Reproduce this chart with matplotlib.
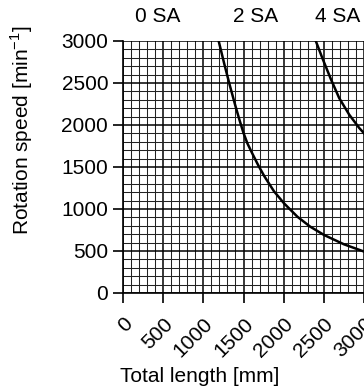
import numpy as np
import matplotlib.pyplot as plt
from matplotlib.ticker import MultipleLocator

plt.rcParams['font.family'] = ['Liberation Sans', 'DejaVu Sans']
plt.rcParams['mathtext.fontset'] = 'custom'
plt.rcParams['mathtext.rm'] = 'Liberation Sans'

# curve 2 SA (length mm, speed 1/min)
len_2sa = [1191, 1260, 1330, 1400, 1450, 1500, 1550, 1610, 1680, 1758, 1880,
           2004, 2171, 2330, 2504, 2750, 3004]
rpm_2sa = [3000, 2730, 2470, 2225, 2060, 1905, 1778, 1660, 1527, 1392, 1210,
           1068, 908, 790, 690, 580, 492]

# curve 4 SA
len_4sa = [2400, 2480, 2588, 2691, 2816, 2941, 3016]
rpm_4sa = [3000, 2800, 2545, 2321, 2123, 1964, 1885]

sa_labels = ['0 SA', '2 SA', '4 SA']
sa_label_x = [437, 1650, 2675]

xticks = [0, 500, 1000, 1500, 2000, 2500, 3000]
yticks = [0, 500, 1000, 1500, 2000, 2500, 3000]

fig = plt.figure(figsize=(3.64, 3.89), dpi=100)
ax = fig.add_axes([123 / 364, 1 - 293 / 389, 241 / 364, 252 / 389])

ax.plot(len_2sa, rpm_2sa, color='black', lw=1.8, zorder=3)
ax.plot(len_4sa, rpm_4sa, color='black', lw=1.8, zorder=3)

ax.set_xlim(0, 3000)
ax.set_ylim(0, 3000)
ax.set_xticks(xticks)
ax.set_yticks(yticks)
ax.xaxis.set_minor_locator(MultipleLocator(100))
ax.yaxis.set_minor_locator(MultipleLocator(100))
ax.grid(which='major', color='black', lw=1.1)
ax.grid(which='minor', color='#222222', lw=0.75)
ax.set_axisbelow(True)
for s in ['top', 'right']:
    ax.spines[s].set_visible(False)
for s in ['left', 'bottom']:
    ax.spines[s].set_linewidth(1.2)

ax.tick_params(which='major', direction='out', length=7.2, width=1.2, labelsize=15)
ax.tick_params(axis='x', pad=8)
ax.tick_params(which='minor', length=0)
ax.set_xticklabels([str(t) for t in xticks], rotation=45, ha='right', va='top',
                   rotation_mode='anchor')

ax.set_xlabel('Total length [mm]', fontsize=15)
ax.xaxis.set_label_coords((200 - 123) / 241, -(376 - 293) / 252)
ax.xaxis.label.set_va('center')
ax.set_ylabel('Rotation speed [min$^{\\mathregular{-1}}$]', fontsize=15)
ax.yaxis.set_label_coords(-(123 - 22) / 241, (293 - 130) / 252)
ax.yaxis.label.set_va('center')

for lab, xv in zip(sa_labels, sa_label_x):
    ax.text(xv, 1 + 24 / 252, lab, transform=ax.get_xaxis_transform(),
            ha='center', va='center', fontsize=15)

fig.savefig('out.png', dpi=100)
